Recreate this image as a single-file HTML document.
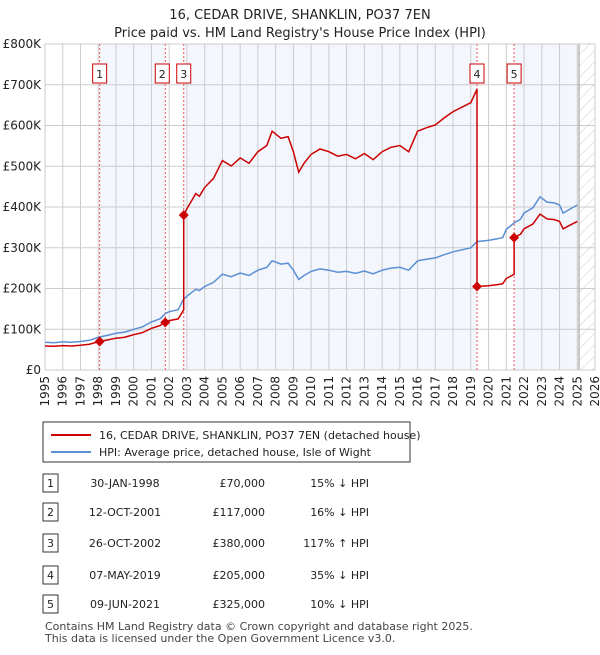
<!DOCTYPE html>
<html><head><meta charset="utf-8"><style>
body{margin:0;background:#fff;font-family:"Liberation Sans","DejaVu Sans",sans-serif;}
svg text{font-family:"DejaVu Sans","Liberation Sans",sans-serif;}
</style></head><body>
<svg id="c" width="600" height="650" xmlns="http://www.w3.org/2000/svg">
<defs><pattern id="hatch" width="8" height="8" patternUnits="userSpaceOnUse" patternTransform="rotate(45)"><line x1="0" y1="0" x2="0" y2="8" stroke="#ccc" stroke-width="1"/></pattern></defs>
<text x="300" y="19" text-anchor="middle" font-size="13" fill="#222">16, CEDAR DRIVE, SHANKLIN, PO37 7EN</text>
<text x="300" y="37" text-anchor="middle" font-size="13" fill="#222">Price paid vs. HM Land Registry's House Price Index (HPI)</text>
<g id="plot"></g>
<g>
<rect x="43" y="422" width="367" height="40" fill="#fff" stroke="#333"/>
<line x1="51" y1="435" x2="91" y2="435" stroke="#cc0000" stroke-width="2"/>
<text x="99" y="439" font-size="11" fill="#222">16, CEDAR DRIVE, SHANKLIN, PO37 7EN (detached house)</text>
<line x1="51" y1="452" x2="91" y2="452" stroke="#5b8fd4" stroke-width="2"/>
<text x="99" y="456" font-size="11" fill="#222">HPI: Average price, detached house, Isle of Wight</text>
</g>
<g id="table"></g>
<text x="45" y="630" font-size="11" fill="#444">Contains HM Land Registry data © Crown copyright and database right 2025.</text>
<text x="45" y="642" font-size="11" fill="#444">This data is licensed under the Open Government Licence v3.0.</text>
</svg>
<script>
const hpiYears=[1995,1995.5,1996,1996.5,1997,1997.5,1998,1998.5,1999,1999.5,2000,2000.5,2001,2001.5,2001.8,2002,2002.5,2002.8,2003,2003.5,2003.7,2004,2004.5,2005,2005.5,2006,2006.5,2007,2007.5,2007.8,2008.3,2008.7,2009,2009.3,2009.6,2010,2010.5,2011,2011.5,2012,2012.5,2013,2013.5,2014,2014.5,2015,2015.5,2016,2016.5,2017,2017.5,2018,2018.5,2019,2019.35,2020,2020.5,2020.8,2021,2021.44,2021.8,2022,2022.5,2022.9,2023.3,2023.7,2024,2024.2,2024.6,2025];
const hpiValues=[68,67,69,68,70,73,80,85,90,93,100,106,118,126,139,143,148,173,181,198,195,205,215,235,229,238,232,245,252,268,260,262,245,222,232,242,248,245,240,242,237,243,236,245,250,252,245,268,272,275,283,290,295,300,315,318,322,325,345,361,370,385,398,425,412,410,405,385,395,405];
const saleDates=[1998.08,2001.78,2002.82,2019.35,2021.44];
const salePrices=[70,117,380,205,325];
const saleLabels=["30-JAN-1998","12-OCT-2001","26-OCT-2002","07-MAY-2019","09-JUN-2021"];
const salePriceText=["£70,000","£117,000","£380,000","£205,000","£325,000"];
const saleHpiText=["15% ↓ HPI","16% ↓ HPI","117% ↑ HPI","35% ↓ HPI","10% ↓ HPI"];
const yTicks=[0,100,200,300,400,500,600,700,800];
const yTickLabels=["£0","£100K","£200K","£300K","£400K","£500K","£600K","£700K","£800K"];
const xTicks=[1995,1996,1997,1998,1999,2000,2001,2002,2003,2004,2005,2006,2007,2008,2009,2010,2011,2012,2013,2014,2015,2016,2017,2018,2019,2020,2021,2022,2023,2024,2025,2026];

const X0=45,X1=595,Y0=370,Y1=44,dataEnd=2025.1;
const xs=t=>X0+(t-1995)/(2026-1995)*(X1-X0);
const ys=v=>Y0-v/800*(Y0-Y1);
const NS="http://www.w3.org/2000/svg";
function mk(tag,attrs,parent){const e=document.createElementNS(NS,tag);for(const k in attrs)e.setAttribute(k,attrs[k]);parent.appendChild(e);return e;}
const plot=document.getElementById('plot');
function hpiAt(t){for(let i=0;i<hpiYears.length-1;i++){if(t>=hpiYears[i]&&t<=hpiYears[i+1]){const f=(t-hpiYears[i])/(hpiYears[i+1]-hpiYears[i]);return hpiValues[i]+f*(hpiValues[i+1]-hpiValues[i]);}}return hpiValues[hpiValues.length-1];}
// shading
const bounds=[...saleDates,dataEnd];
for(let i=0;i<saleDates.length;i++){
  if(i%2===1&&i<3)continue;
  if(i===3)continue;
  const r=mk('rect',{x:xs(bounds[i]),y:Y1,width:xs(bounds[i+1])-xs(bounds[i]),height:Y0-Y1,fill:'#f3f6fd'},plot);
  
  
}
const hz=mk('rect',{x:xs(dataEnd),y:Y1,width:X1-xs(dataEnd),height:Y0-Y1,fill:'url(#hatch)'},plot);


// grid
yTicks.forEach((v,i)=>{
  mk('line',{x1:X0,x2:X1,y1:ys(v),y2:ys(v),stroke:'#ccc','stroke-width':1},plot);
  const t=mk('text',{x:X0-4,y:ys(v)+4,'text-anchor':'end','font-size':12,fill:'#222'},plot);t.textContent=yTickLabels[i];
  
  
});
xTicks.forEach(y=>{
  mk('line',{x1:xs(y),x2:xs(y),y1:Y1,y2:Y0,stroke:'#ccc','stroke-width':1},plot);
  const t=mk('text',{x:0,y:0,'text-anchor':'end','font-size':12,fill:'#222',transform:`translate(${xs(y)+4},${Y0+6}) rotate(-90)`},plot);t.textContent=y;
  
  
});
mk('line',{x1:xs(dataEnd),x2:xs(dataEnd),y1:Y1,y2:Y0,stroke:'#999','stroke-width':1},plot);
mk('rect',{x:X0,y:Y1,width:X1-X0,height:Y0-Y1,fill:'none',stroke:'#ccc'},plot);
// sale markers lines & labels
saleDates.forEach((d,i)=>{
  mk('line',{x1:xs(d),x2:xs(d),y1:Y1,y2:Y0,stroke:'#e55','stroke-width':1,'stroke-dasharray':'2,2'},plot);
  const bx=xs(d)-(i===1?6:0);
  const g=mk('g',{},plot);
  
  
  mk('rect',{x:xs(d)-7-(i==1?3:0)+(i==2?0:0),y:64,width:14,height:19,fill:'#fff',stroke:'#c00'},g);
  const t=mk('text',{x:xs(d)-(i==1?3:0),y:78,'text-anchor':'middle','font-size':11,fill:'#222'},g);t.textContent=i+1;
});
// HPI line
let p='';hpiYears.forEach((y,i)=>{p+=(i?'L':'M')+xs(y).toFixed(1)+','+ys(hpiValues[i]).toFixed(1);});
const hl=mk('path',{d:p,fill:'none',stroke:'#5b8fd4','stroke-width':1.5},plot);


// property line
const ratios=saleDates.map((d,i)=>salePrices[i]/hpiAt(d));
const pts=[];
function seg(t){let s=0;for(let i=0;i<saleDates.length;i++)if(t>=saleDates[i])s=i;return s;}
const times=[...hpiYears];
saleDates.forEach(d=>{times.push(d-0.0001);times.push(d);});
times.sort((a,b)=>a-b);
times.forEach(t=>{pts.push([t,hpiAt(t)*ratios[seg(t)]]);});
let rp='';pts.forEach((q,i)=>{rp+=(i?'L':'M')+xs(q[0]).toFixed(1)+','+ys(q[1]).toFixed(1);});
const rl=mk('path',{d:rp,fill:'none',stroke:'#cc0000','stroke-width':1.5},plot);


saleDates.forEach((d,i)=>{
  const x=xs(d),y=ys(salePrices[i]);
  const m=mk('path',{d:`M${x-5},${y}L${x},${y-5}L${x+5},${y}L${x},${y+5}Z`,fill:'#cc0000'},plot);
  
  
});
// table
const tb=document.getElementById('table');
const rowY=[483,512,543,575,604];
saleDates.forEach((d,i)=>{
  const y=rowY[i];
  const g=mk('g',{},tb);
  
  
  mk('rect',{x:43,y:y-9,width:15,height:18,fill:'#fff',stroke:'#333'},g);
  let t=mk('text',{x:50.5,y:y+4,'text-anchor':'middle','font-size':11,fill:'#222'},g);t.textContent=i+1;
  t=mk('text',{x:125,y:y+4,'text-anchor':'middle','font-size':11,fill:'#222'},g);t.textContent=saleLabels[i];
  t=mk('text',{x:265,y:y+4,'text-anchor':'end','font-size':11,fill:'#222'},g);t.textContent=salePriceText[i];
  t=mk('text',{x:369,y:y+4,'text-anchor':'end','font-size':11,fill:'#222'},g);t.textContent=saleHpiText[i];
});
</script>
</body></html>
